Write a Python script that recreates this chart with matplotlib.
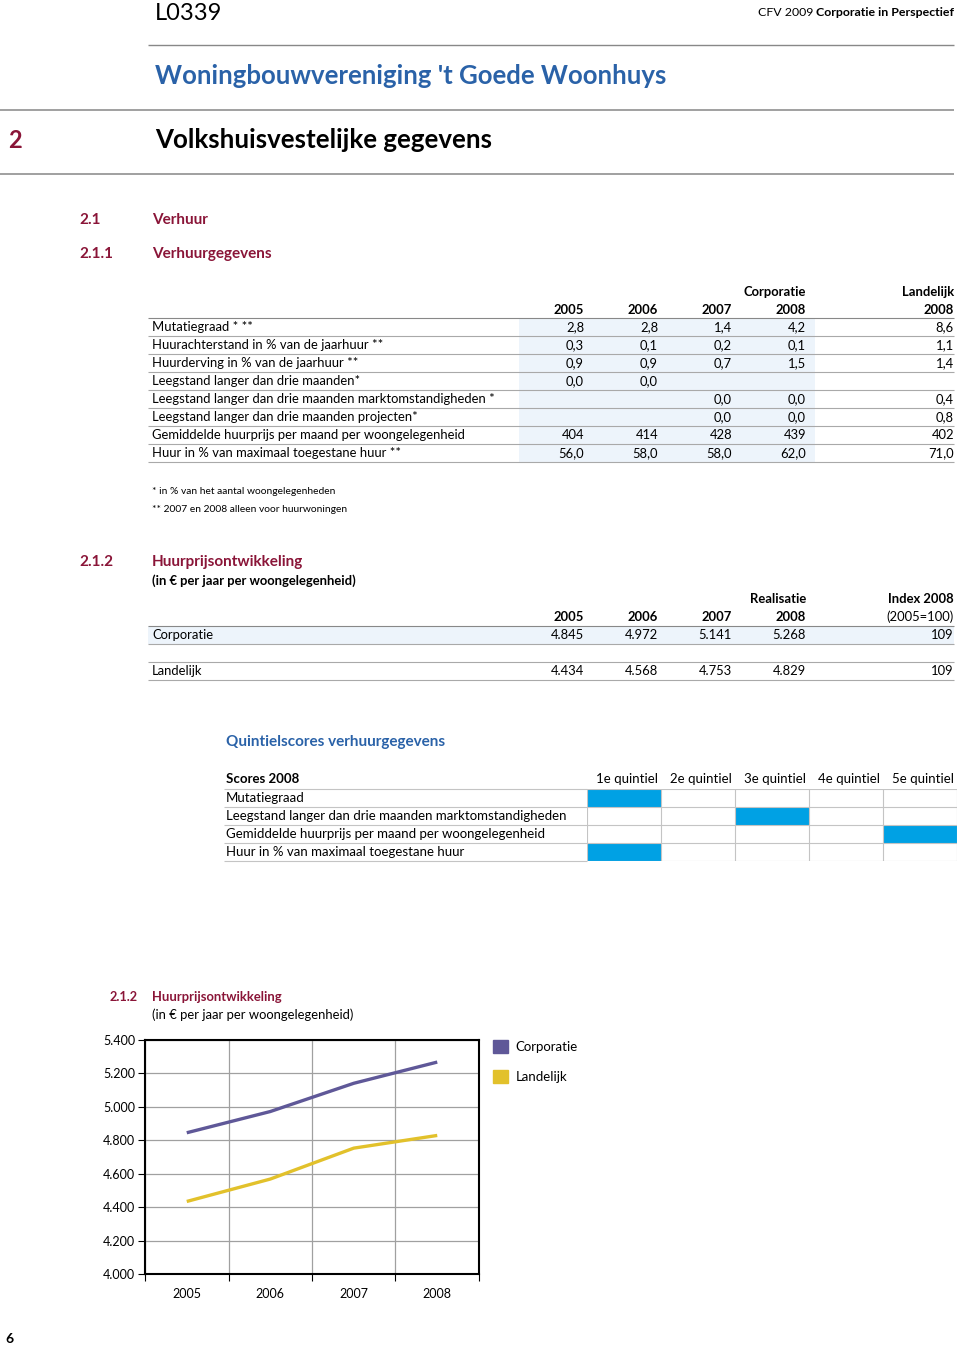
import matplotlib
matplotlib.use("Agg")
import matplotlib.pyplot as plt
from matplotlib.patches import Patch

plt.rcParams["font.family"] = ["Lato", "DejaVu Sans"]

# ---- data -------------------------------------------------------------
years = ["2005", "2006", "2007", "2008"]

verhuur_rows = [
    "Mutatiegraad * **",
    "Huurachterstand in % van de jaarhuur **",
    "Huurderving in % van de jaarhuur **",
    "Leegstand langer dan drie maanden*",
    "Leegstand langer dan drie maanden marktomstandigheden *",
    "Leegstand langer dan drie maanden projecten*",
    "Gemiddelde huurprijs per maand per woongelegenheid",
    "Huur in % van maximaal toegestane huur **",
]
verhuur_decimals = [1, 1, 1, 1, 1, 1, 0, 1]
corp_2005 = [2.8, 0.3, 0.9, 0.0, None, None, 404, 56.0]
corp_2006 = [2.8, 0.1, 0.9, 0.0, None, None, 414, 58.0]
corp_2007 = [1.4, 0.2, 0.7, None, 0.0, 0.0, 428, 58.0]
corp_2008 = [4.2, 0.1, 1.5, None, 0.0, 0.0, 439, 62.0]
land_2008 = [8.6, 1.1, 1.4, None, 0.4, 0.8, 402, 71.0]

footnotes = ["* in % van het aantal woongelegenheden",
             "** 2007 en 2008 alleen voor huurwoningen"]

huurprijs_corp = [4845, 4972, 5141, 5268]
huurprijs_land = [4434, 4568, 4753, 4829]
index_corp = 109
index_land = 109

quintile_labels = ["1e quintiel", "2e quintiel", "3e quintiel", "4e quintiel", "5e quintiel"]
quintile_rows = [
    "Mutatiegraad",
    "Leegstand langer dan drie maanden marktomstandigheden",
    "Gemiddelde huurprijs per maand per woongelegenheid",
    "Huur in % van maximaal toegestane huur",
]
quintile_scores = [1, 3, 5, 1]

chart_yticks = [4000, 4200, 4400, 4600, 4800, 5000, 5200, 5400]

# ---- styles -----------------------------------------------------------
MAROON = "#8a1538"
BLUE = "#2a62a8"
QBLUE = "#00a1e4"
SHADE = "#edf4fb"
GRID = "#a9a9a9"
C_CORP = "#5f5898"
C_LAND = "#e2c12b"
W, H = 960, 1347
FS = 9.4  # body text


def fmt_nl(v, d=0):
    if v is None:
        return ""
    s = f"{v:,.{d}f}"
    return s.replace(",", "#").replace(".", ",").replace("#", ".")


fig = plt.figure(figsize=(W / 100, H / 100), dpi=100)
page = fig.add_axes([0, 0, 1, 1])
page.set_xlim(0, W)
page.set_ylim(H, 0)
page.axis("off")


def txt(x, y, s, **kw):
    kw.setdefault("va", "center")
    kw.setdefault("fontsize", FS)
    return page.text(x, y, s, **kw)


def hline(y, x0, x1, color=GRID, lw=0.8):
    page.plot([x0, x1], [y, y], color=color, lw=lw, solid_capstyle="butt")


# header
txt(155, 13, "L0339", fontsize=17)
bold_hdr = txt(954, 13, "Corporatie in Perspectief", ha="right",
               fontsize=8.9, fontweight="bold")
page.annotate("CFV 2009 ", xy=(0, 0.5), xycoords=bold_hdr, ha="right",
              va="center", fontsize=8.9)
hline(45, 148, 954, color="#888888", lw=1.0)
txt(155, 76, "Woningbouwvereniging 't Goede Woonhuys", fontsize=18.5,
    fontweight="bold", color=BLUE)
hline(110, 0, 954, color="#999999", lw=1.3)
txt(8, 140, "2", fontsize=17, fontweight="bold", color=MAROON)
txt(155, 140, "Volkshuisvestelijke gegevens", fontsize=18.6, fontweight="bold")
hline(174, 0, 954, color="#999999", lw=1.3)

txt(79, 220, "2.1", fontsize=11, fontweight="bold", color=MAROON)
txt(152, 220, "Verhuur", fontsize=11, fontweight="bold", color=MAROON)
txt(79, 254, "2.1.1", fontsize=11, fontweight="bold", color=MAROON)
txt(152, 254, "Verhuurgegevens", fontsize=11, fontweight="bold", color=MAROON)

# ---- table 2.1.1 ------------------------------------------------------
col_x = [584, 658, 732, 806]
row0, rh = 327, 18
n = len(verhuur_rows)
page.add_patch(plt.Rectangle((519, row0 - rh / 2), 296, rh * n,
                             color=SHADE, lw=0, zorder=0))
txt(806, 292, "Corporatie", ha="right", fontweight="bold")
txt(954, 292, "Landelijk", ha="right", fontweight="bold")
for x, yr in zip(col_x, years):
    txt(x, 310, yr, ha="right", fontweight="bold")
txt(954, 310, "2008", ha="right", fontweight="bold")
hline(row0 - rh / 2, 148, 954, color="#888888")
columns = [corp_2005, corp_2006, corp_2007, corp_2008]
for i, label in enumerate(verhuur_rows):
    y = row0 + i * rh
    txt(152, y, label)
    for x, col in zip(col_x, columns):
        txt(x, y, fmt_nl(col[i], verhuur_decimals[i]), ha="right")
    txt(954, y, fmt_nl(land_2008[i], verhuur_decimals[i]), ha="right")
    hline(y + rh / 2, 148, 954)

for i, note in enumerate(footnotes):
    txt(152, 491 + i * 18, note, fontsize=7.35)

# ---- table 2.1.2 ------------------------------------------------------
txt(79, 562, "2.1.2", fontsize=11, fontweight="bold", color=MAROON)
txt(152, 562, "Huurprijsontwikkeling", fontsize=11, fontweight="bold", color=MAROON)
txt(152, 581, "(in \u20ac per jaar per woongelegenheid)", fontweight="bold")
txt(806, 599, "Realisatie", ha="right", fontweight="bold")
txt(954, 599, "Index 2008", ha="right", fontweight="bold")
for x, yr in zip(col_x, years):
    txt(x, 617, yr, ha="right", fontweight="bold")
txt(954, 617, "(2005=100)", ha="right")
page.add_patch(plt.Rectangle((148, 626), 806, 18, color=SHADE, lw=0, zorder=0))
hline(626, 148, 954, color="#888888")
for y, name, vals, idx in [(635, "Corporatie", huurprijs_corp, index_corp),
                           (671, "Landelijk", huurprijs_land, index_land)]:
    txt(152, y, name)
    for x, v in zip(col_x, vals):
        txt(x, y, fmt_nl(v), ha="right")
    txt(954, y, str(idx), ha="right")
    hline(y + 9, 148, 954)
hline(662, 148, 954)

# ---- quintile table ---------------------------------------------------
txt(226, 742, "Quintielscores verhuurgegevens", fontsize=11, fontweight="bold", color=BLUE)
q_left, q_x0, q_w, q_top, q_rh = 224, 587, 74, 789, 18
txt(226, 779, "Scores 2008", fontweight="bold", fontsize=9.5)
for j, lab in enumerate(quintile_labels):
    txt(q_x0 + (j + 1) * q_w - 3, 779, lab, ha="right", fontsize=9.5)
for i, lab in enumerate(quintile_rows):
    txt(226, q_top + q_rh * (i + 0.5), lab, fontsize=9.5)

qax = fig.add_axes([q_x0 / W, 1 - (q_top + q_rh * len(quintile_rows)) / H,
                    q_w * 5 / W, q_rh * len(quintile_rows) / H])
qax.barh(range(len(quintile_rows)), 1, left=[s - 1 for s in quintile_scores],
         height=1, color=QBLUE, zorder=1)
qax.set_xlim(0, 5)
qax.set_ylim(len(quintile_rows) - 0.5, -0.5)
qax.set_xticks(range(6))
qax.set_yticks([k - 0.5 for k in range(len(quintile_rows) + 1)])
qax.grid(True, color="#c4c4c4", lw=0.8, zorder=2)
qax.tick_params(length=0, labelbottom=False, labelleft=False)
for s in qax.spines.values():
    s.set_visible(False)
qax.set_facecolor("none")
for k in range(len(quintile_rows) + 1):
    hline(q_top + k * q_rh, q_left, q_x0, color="#c4c4c4")

# ---- line chart -------------------------------------------------------
txt(110, 997, "2.1.2", fontsize=9.2, fontweight="bold", color=MAROON)
txt(152, 997, "Huurprijsontwikkeling", fontsize=9.4, fontweight="bold", color=MAROON)
txt(152, 1015, "(in \u20ac per jaar per woongelegenheid)", fontsize=9.4)

cx0, cx1, cy0, cy1 = 145, 479, 1040, 1274
cax = fig.add_axes([cx0 / W, 1 - cy1 / H, (cx1 - cx0) / W, (cy1 - cy0) / H])
xpos = [i + 0.5 for i in range(len(years))]
cax.plot(xpos, huurprijs_corp, color=C_CORP, lw=2.4, solid_capstyle="butt")
cax.plot(xpos, huurprijs_land, color=C_LAND, lw=2.4, solid_capstyle="butt")
cax.set_xlim(0, len(years))
cax.set_ylim(chart_yticks[0], chart_yticks[-1])
cax.set_yticks(chart_yticks)
cax.set_yticklabels([fmt_nl(v) for v in chart_yticks])
cax.set_xticks(range(len(years) + 1))
cax.set_xticklabels([])
cax.set_xticks(xpos, minor=True)
cax.set_xticklabels(years, minor=True)
cax.tick_params(axis="x", which="minor", length=0, pad=10, labelsize=9)
cax.tick_params(axis="x", which="major", direction="out", length=5, width=0.8)
cax.tick_params(axis="y", direction="out", length=5, width=0.8, pad=2, labelsize=9)
cax.grid(True, which="major", color="#a0a0a0", lw=0.9)
cax.set_axisbelow(True)
for s in cax.spines.values():
    s.set_linewidth(1.5)
    s.set_color("black")

fig.legend(handles=[Patch(color=C_CORP, label="Corporatie"),
                    Patch(color=C_LAND, label="Landelijk")],
           loc="upper left", bbox_to_anchor=(488 / W, 1 - 1035 / H),
           frameon=False, fontsize=9.5, handlelength=1.1, handleheight=1.1,
           labelspacing=1.3, handletextpad=0.6, borderaxespad=0)

txt(5, 1339, "6", fontsize=10, fontweight="bold")

fig.savefig("out.png", dpi=100)
